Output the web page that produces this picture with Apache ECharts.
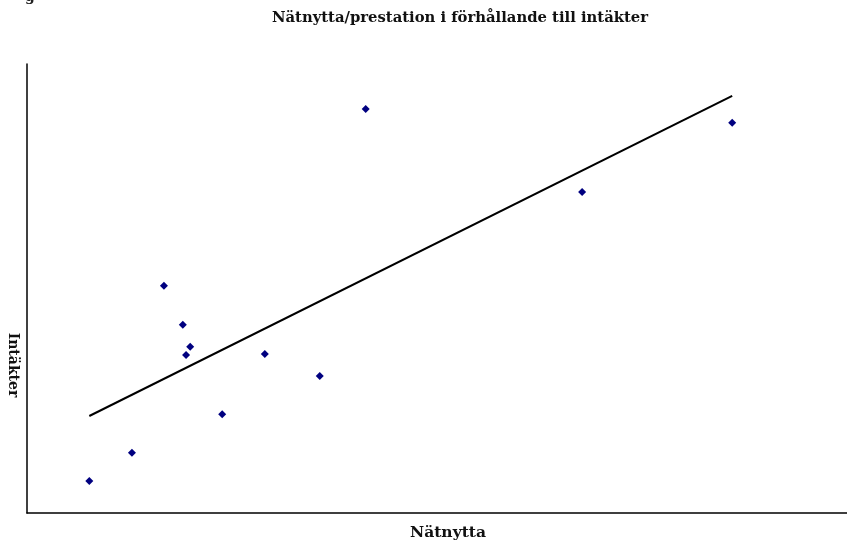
<!DOCTYPE html>
<html>
<head>
<meta charset="utf-8">
<script src="https://cdn.jsdelivr.net/npm/echarts@6/dist/echarts.min.js"></script>
<style>html,body{margin:0;padding:0;background:#fff}#c{width:847px;height:543px}</style>
</head>
<body>
<div id="c"></div>
<script>
var titleText = 'Nätnytta/prestation i förhållande till intäkter';
var xName = 'Nätnytta';
var yName = 'Intäkter';
var natnytta = [7.6, 12.8, 16.7, 19.0, 19.9, 19.4, 23.8, 29.0, 35.7, 41.3, 67.7, 86.0];
var intakter = [7.1, 13.4, 50.6, 41.9, 37.0, 35.2, 22.0, 35.4, 30.5, 90.0, 71.5, 86.9];
var trendX = [7.6, 86.0];
var trendY = [21.6, 92.9];

var pts = natnytta.map(function(v, i){ return [v, intakter[i]]; });
var trend = trendX.map(function(v, i){ return [v, trendY[i]]; });
var serif = '"DejaVu Serif", "Liberation Serif", serif';

var chart = echarts.init(document.getElementById('c'));
chart.setOption({
  animation: false,
  backgroundColor: '#fff',
  grid: {left: 27, top: 64, right: 0, bottom: 30},
  xAxis: {type: 'value', min: 0, max: 100,
    axisLine: {show: true, onZero: false, lineStyle: {color: '#000', width: 1.5}},
    axisTick: {show: false}, axisLabel: {show: false}, splitLine: {show: false}},
  yAxis: {type: 'value', min: 0, max: 100,
    axisLine: {show: true, onZero: false, lineStyle: {color: '#000', width: 1.5}},
    axisTick: {show: false}, axisLabel: {show: false}, splitLine: {show: false}},
  graphic: [
    {type: 'text', x: 460, y: 18, style: {text: titleText, font: 'bold 14.8px ' + serif, fill: '#111', align: 'center', verticalAlign: 'middle'}},
    {type: 'text', x: 448, y: 533, style: {text: xName, font: 'bold 15.5px ' + serif, fill: '#111', align: 'center', verticalAlign: 'middle'}},
    {type: 'text', x: 13, y: 365, rotation: -Math.PI/2, style: {text: yName, font: 'bold 14px ' + serif, fill: '#111', align: 'center', verticalAlign: 'middle'}},
    {type: 'text', x: 30, y: 4, style: {text: 'g', font: 'bold 14px ' + serif, fill: '#222', align: 'center', verticalAlign: 'bottom'}}
  ],
  series: [
    {type: 'line', data: trend, symbol: 'none', lineStyle: {color: '#000', width: 2}, z: 2},
    {type: 'scatter', data: pts, symbol: 'diamond', symbolSize: 8, itemStyle: {color: '#000080', opacity: 1}, z: 3}
  ]
});
</script>
</body>
</html>
